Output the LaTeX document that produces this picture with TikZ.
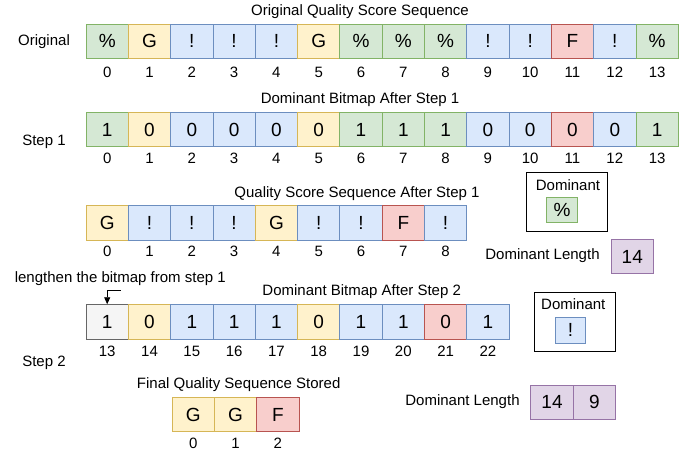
\documentclass[tikz,border=0pt]{standalone}
\usepackage{fontspec}
\setmainfont{Liberation Sans}
\usetikzlibrary{arrows.meta}

\definecolor{grnfill}{HTML}{D5E8D4}
\definecolor{grnline}{HTML}{82B366}
\definecolor{ylwfill}{HTML}{FFF2CC}
\definecolor{ylwline}{HTML}{D6B656}
\definecolor{blufill}{HTML}{DAE8FC}
\definecolor{bluline}{HTML}{6C8EBF}
\definecolor{redfill}{HTML}{F8CECC}
\definecolor{redline}{HTML}{B85450}
\definecolor{prpfill}{HTML}{E1D5E7}
\definecolor{prpline}{HTML}{9673A6}
\definecolor{gryfill}{HTML}{F5F5F5}
\definecolor{gryline}{HTML}{666666}

\newcommand\cellfnt{\fontsize{19}{22}\selectfont}
\newcommand\labfnt{\fontsize{15}{18}\selectfont}

\begin{document}
\begin{tikzpicture}[x=1pt,y=-1pt,
  cell/.style={minimum width=42.3pt,minimum height=34.3pt,inner sep=0pt,line width=0.8pt,font=\cellfnt},
  greencell/.style={cell,fill=grnfill,draw=grnline},
  yellowcell/.style={cell,fill=ylwfill,draw=ylwline},
  bluecell/.style={cell,fill=blufill,draw=bluline},
  redcell/.style={cell,fill=redfill,draw=redline},
  purplecell/.style={cell,fill=prpfill,draw=prpline},
  greycell/.style={cell,fill=gryfill,draw=gryline},
  smallcell/.style={minimum width=30.5pt,minimum height=25.5pt},
  idx/.style={inner sep=0pt,font=\labfnt},
  lbl/.style={inner sep=0pt,font=\labfnt},
  domframe/.style={draw,line width=0.8pt,minimum width=81.3pt,minimum height=58.8pt,inner sep=0pt}]
\useasboundingbox (0,0) rectangle (684,451);

% original sequence
\node[lbl] (ttlo) at (360,11.5) {Original Quality Score Sequence};
\node[lbl] (rowo) at (44,41.5) {Original};
\node[greencell] (o0) at (107.2,41.2) {\%};
\node[yellowcell] (o1) at (149.5,41.2) {G};
\node[bluecell] (o2) at (191.8,41.2) {!};
\node[bluecell] (o3) at (234.1,41.2) {!};
\node[bluecell] (o4) at (276.4,41.2) {!};
\node[yellowcell] (o5) at (318.7,41.2) {G};
\node[greencell] (o6) at (361.0,41.2) {\%};
\node[greencell] (o7) at (403.3,41.2) {\%};
\node[greencell] (o8) at (445.6,41.2) {\%};
\node[bluecell] (o9) at (487.9,41.2) {!};
\node[bluecell] (o10) at (530.2,41.2) {!};
\node[redcell] (o11) at (572.5,41.2) {F};
\node[bluecell] (o12) at (614.8,41.2) {!};
\node[greencell] (o13) at (657.1,41.2) {\%};

\node[idx] (io0) at (107.2,72) {0};
\node[idx] (io1) at (149.5,72) {1};
\node[idx] (io2) at (191.8,72) {2};
\node[idx] (io3) at (234.1,72) {3};
\node[idx] (io4) at (276.4,72) {4};
\node[idx] (io5) at (318.7,72) {5};
\node[idx] (io6) at (361.0,72) {6};
\node[idx] (io7) at (403.3,72) {7};
\node[idx] (io8) at (445.6,72) {8};
\node[idx] (io9) at (487.9,72) {9};
\node[idx] (io10) at (530.2,72) {10};
\node[idx] (io11) at (572.5,72) {11};
\node[idx] (io12) at (614.8,72) {12};
\node[idx] (io13) at (657.1,72) {13};

% bitmap after step 1
\node[lbl] (ttlb) at (360,100) {Dominant Bitmap After Step 1};
\node[lbl] (rowb) at (44,141.5) {Step 1};
\node[greencell] (b0) at (107.2,129.7) {1};
\node[yellowcell] (b1) at (149.5,129.7) {0};
\node[bluecell] (b2) at (191.8,129.7) {0};
\node[bluecell] (b3) at (234.1,129.7) {0};
\node[bluecell] (b4) at (276.4,129.7) {0};
\node[yellowcell] (b5) at (318.7,129.7) {0};
\node[greencell] (b6) at (361.0,129.7) {1};
\node[greencell] (b7) at (403.3,129.7) {1};
\node[greencell] (b8) at (445.6,129.7) {1};
\node[bluecell] (b9) at (487.9,129.7) {0};
\node[bluecell] (b10) at (530.2,129.7) {0};
\node[redcell] (b11) at (572.5,129.7) {0};
\node[bluecell] (b12) at (614.8,129.7) {0};
\node[greencell] (b13) at (657.1,129.7) {1};

\node[idx] (ib0) at (107.2,158) {0};
\node[idx] (ib1) at (149.5,158) {1};
\node[idx] (ib2) at (191.8,158) {2};
\node[idx] (ib3) at (234.1,158) {3};
\node[idx] (ib4) at (276.4,158) {4};
\node[idx] (ib5) at (318.7,158) {5};
\node[idx] (ib6) at (361.0,158) {6};
\node[idx] (ib7) at (403.3,158) {7};
\node[idx] (ib8) at (445.6,158) {8};
\node[idx] (ib9) at (487.9,158) {9};
\node[idx] (ib10) at (530.2,158) {10};
\node[idx] (ib11) at (572.5,158) {11};
\node[idx] (ib12) at (614.8,158) {12};
\node[idx] (ib13) at (657.1,158) {13};

% quality sequence after step 1
\node[lbl] (ttlq) at (357,193.3) {Quality Score Sequence After Step 1};
\node[yellowcell] (q0) at (107.2,222.9) {G};
\node[bluecell] (q1) at (149.5,222.9) {!};
\node[bluecell] (q2) at (191.8,222.9) {!};
\node[bluecell] (q3) at (234.1,222.9) {!};
\node[yellowcell] (q4) at (276.4,222.9) {G};
\node[bluecell] (q5) at (318.7,222.9) {!};
\node[bluecell] (q6) at (361.0,222.9) {!};
\node[redcell] (q7) at (403.3,222.9) {F};
\node[bluecell] (q8) at (445.6,222.9) {!};

\node[idx] (iq0) at (107.2,251.5) {0};
\node[idx] (iq1) at (149.5,251.5) {1};
\node[idx] (iq2) at (191.8,251.5) {2};
\node[idx] (iq3) at (234.1,251.5) {3};
\node[idx] (iq4) at (276.4,251.5) {4};
\node[idx] (iq5) at (318.7,251.5) {5};
\node[idx] (iq6) at (361.0,251.5) {6};
\node[idx] (iq7) at (403.3,251.5) {7};
\node[idx] (iq8) at (445.6,251.5) {8};

% dominant after step 1
\node[domframe] (dom1) at (566.7,201.7) {};
\node[lbl] (domt1) at (568,185) {Dominant};
\node[greencell,smallcell] (domc1) at (562,210) {\%};
\node[lbl] (lent1) at (542.5,256) {Dominant Length};
\node[purplecell] (len1) at (632.3,256.5) {14};

% bitmap after step 2
\node[lbl] (note) at (120.3,278.3) {lengthen the bitmap from step 1};
\node[lbl] (ttlc) at (361.7,291.7) {Dominant Bitmap After Step 2};
\node[lbl] (rowc) at (44,363.3) {Step 2};
\node[greycell] (c13) at (107.2,321.8) {1};
\node[yellowcell] (c14) at (149.5,321.8) {0};
\node[bluecell] (c15) at (191.8,321.8) {1};
\node[bluecell] (c16) at (234.1,321.8) {1};
\node[bluecell] (c17) at (276.4,321.8) {1};
\node[yellowcell] (c18) at (318.7,321.8) {0};
\node[bluecell] (c19) at (361.0,321.8) {1};
\node[bluecell] (c20) at (403.3,321.8) {1};
\node[redcell] (c21) at (445.6,321.8) {0};
\node[bluecell] (c22) at (487.9,321.8) {1};

\node[idx] (ic13) at (107.2,351) {13};
\node[idx] (ic14) at (149.5,351) {14};
\node[idx] (ic15) at (191.8,351) {15};
\node[idx] (ic16) at (234.1,351) {16};
\node[idx] (ic17) at (276.4,351) {17};
\node[idx] (ic18) at (318.7,351) {18};
\node[idx] (ic19) at (361.0,351) {19};
\node[idx] (ic20) at (403.3,351) {20};
\node[idx] (ic21) at (445.6,351) {21};
\node[idx] (ic22) at (487.9,351) {22};

\coordinate (bend) at (120.5,290.7);
\draw[line width=0.8pt,-{Triangle[length=7pt,width=6pt]}] (bend) -| (c13.north);

% dominant after step 2
\node[domframe] (dom2) at (575,321.8) {};
\node[lbl] (domt2) at (573.3,304.5) {Dominant};
\node[bluecell,smallcell] (domc2) at (570.5,330.2) {!};

% final sequence
\node[lbl] (ttlf) at (238.7,385) {Final Quality Sequence Stored};
\node[yellowcell] (f0) at (193.2,414.7) {G};
\node[yellowcell] (f1) at (235.5,414.7) {G};
\node[redcell] (f2) at (277.8,414.7) {F};
\node[idx] (if0) at (193.2,443) {0};
\node[idx] (if1) at (235.5,443) {1};
\node[idx] (if2) at (277.8,443) {2};

\node[lbl] (lent2) at (462.5,401.7) {Dominant Length};
\node[purplecell] (len2a) at (552,402.2) {14};
\node[purplecell] (len2b) at (594.4,402.2) {9};
\end{tikzpicture}
\end{document}
